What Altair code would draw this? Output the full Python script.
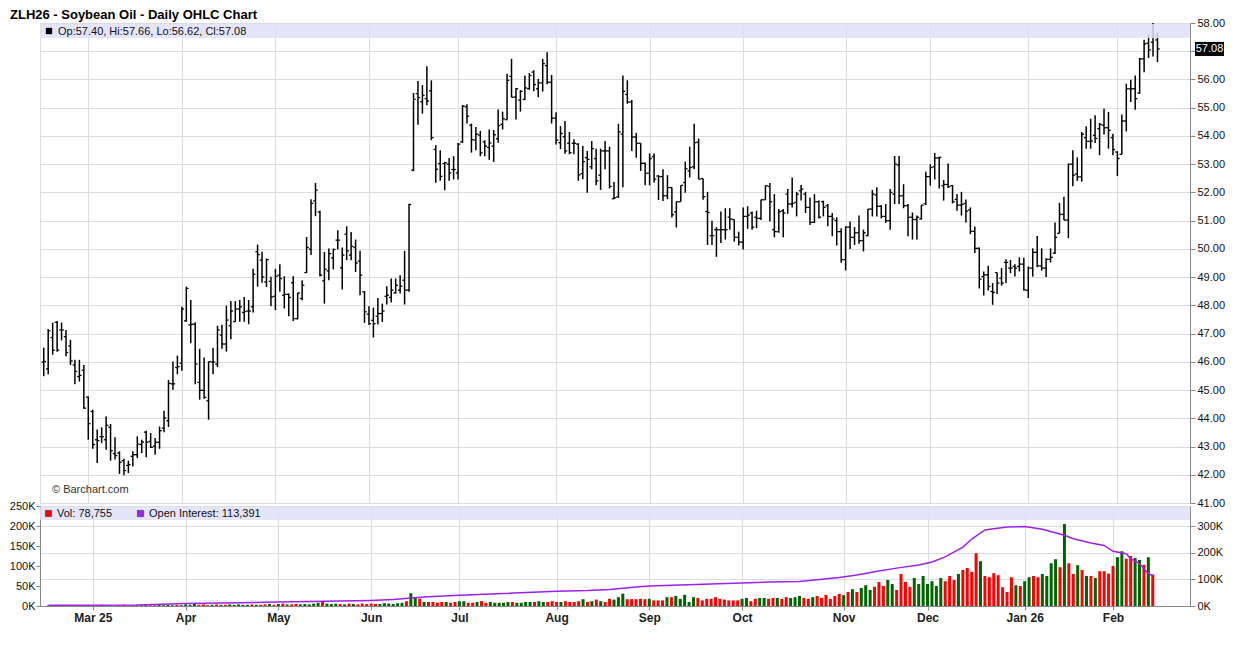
import altair as alt
import pandas as pd

title_text = "ZLH26 - Soybean Oil - Daily OHLC Chart"

opens = [45.99, 45.75, 46.86, 47.40, 47.13, 46.89, 46.56, 45.89, 45.48, 45.70,
         44.75, 44.24, 43.24, 43.35, 43.24, 43.68, 42.75, 42.77, 42.50, 42.33,
         42.65, 42.71, 43.07, 43.51, 43.18, 43.01, 43.15, 43.65, 43.91, 45.22,
         45.80, 45.95, 47.45, 47.31, 47.33, 45.27, 44.99, 44.62, 45.99, 45.92,
         46.95, 46.63, 47.28, 47.42, 47.87, 47.75, 47.80, 47.95, 49.90, 49.60,
         48.83, 48.85, 48.32, 49.07, 48.36, 48.39, 48.80, 47.53, 48.24, 49.16,
         49.99, 51.70, 51.31, 48.87, 49.22, 49.68, 50.31, 49.33, 50.52, 49.78,
         50.05, 49.57, 48.48, 47.69, 47.47, 47.61, 47.71, 48.32, 48.28, 48.44,
         48.54, 48.89, 48.54, 52.79, 55.50, 55.21, 55.32, 55.60, 53.52, 53.02,
         53.02, 53.00, 52.81, 52.69, 53.79, 55.03, 54.38, 53.85, 54.03, 53.79,
         53.59, 53.64, 53.90, 54.41, 54.58, 56.11, 55.38, 55.27, 55.29, 55.67,
         56.26, 55.67, 55.88, 56.49, 55.90, 54.63, 53.76, 53.97, 53.74, 53.74,
         53.71, 52.67, 53.23, 52.91, 53.20, 52.61, 53.47, 53.47, 51.78, 51.84,
         54.06, 55.47, 55.20, 53.96, 53.74, 53.03, 52.68, 53.27, 52.58, 52.56,
         51.88, 52.17, 51.31, 51.67, 52.35, 52.76, 52.91, 53.78, 52.49, 51.32,
         50.47, 50.68, 50.68, 50.68, 51.12, 51.04, 50.41, 50.24, 51.15, 51.27,
         51.12, 51.08, 51.74, 52.21, 50.68, 50.61, 51.35, 51.94, 51.59, 51.65,
         52.06, 51.94, 51.47, 50.94, 51.67, 51.67, 51.53, 51.15, 51.00, 50.61,
         49.62, 50.77, 50.41, 50.57, 50.29, 50.47, 51.41, 51.91, 51.51, 51.15,
         51.00, 51.94, 52.97, 51.88, 51.53, 51.12, 51.04, 51.06, 51.60, 52.56,
         52.91, 53.22, 52.24, 52.28, 52.24, 51.75, 51.55, 51.61, 51.38, 50.62,
         50.02, 49.02, 49.08, 48.49, 49.16, 48.96, 49.52, 49.32, 49.38, 49.38,
         49.46, 48.53, 49.32, 49.88, 49.40, 49.32, 49.63, 49.85, 50.55, 51.22,
         51.02, 53.00, 52.65, 52.55, 53.94, 53.81, 54.02, 54.26, 54.38, 54.29,
         53.94, 53.43, 53.35, 54.53, 55.67, 55.67, 55.52, 56.73, 57.28, 57.32,
         57.40]
highs = [46.50, 47.16, 47.39, 47.45, 47.39, 47.13, 46.78, 46.07, 46.07, 45.89,
         44.77, 44.30, 43.60, 43.68, 44.06, 43.80, 43.33, 42.83, 42.57, 42.50,
         42.83, 43.36, 43.24, 43.56, 43.48, 43.30, 43.71, 44.27, 45.36, 46.01,
         46.22, 47.95, 48.66, 48.19, 47.40, 46.46, 46.15, 46.01, 46.50, 47.28,
         47.31, 47.99, 48.15, 48.15, 48.19, 48.30, 48.19, 49.30, 50.15, 49.90,
         49.66, 49.01, 49.29, 49.46, 49.03, 48.42, 49.03, 48.44, 48.89, 50.42,
         51.76, 52.34, 51.35, 49.89, 50.01, 50.01, 50.66, 50.05, 50.80, 50.60,
         50.33, 49.93, 48.50, 47.97, 47.92, 48.26, 48.06, 48.68, 48.95, 48.95,
         49.07, 49.93, 51.60, 55.52, 55.95, 55.80, 56.47, 55.97, 53.67, 53.49,
         53.08, 53.22, 53.28, 53.75, 55.09, 55.12, 54.44, 54.32, 54.18, 53.85,
         54.23, 54.21, 54.94, 54.86, 56.20, 56.73, 55.70, 55.62, 56.14, 56.23,
         56.33, 56.02, 56.73, 56.96, 56.16, 54.84, 54.35, 54.53, 54.14, 53.88,
         53.74, 53.64, 53.47, 53.82, 53.55, 53.55, 53.82, 53.62, 52.37, 54.43,
         56.14, 55.97, 55.27, 54.11, 53.74, 53.06, 53.38, 53.38, 52.61, 52.82,
         52.61, 52.17, 51.67, 52.25, 53.09, 53.62, 54.43, 53.91, 52.49, 52.02,
         51.00, 50.77, 51.32, 51.44, 51.44, 51.04, 50.61, 51.47, 51.51, 51.32,
         51.35, 51.74, 52.24, 52.33, 51.94, 51.41, 51.41, 52.12, 52.53, 52.02,
         52.26, 52.02, 51.82, 51.94, 51.71, 51.71, 51.59, 51.27, 51.12, 50.73,
         50.80, 50.97, 50.77, 51.18, 50.68, 51.41, 52.09, 52.18, 51.55, 51.59,
         52.12, 53.29, 53.29, 52.29, 51.59, 51.29, 51.18, 51.55, 52.73, 53.00,
         53.40, 53.26, 52.44, 53.02, 52.26, 51.94, 52.02, 51.75, 51.47, 50.79,
         50.05, 49.20, 49.40, 48.79, 49.16, 49.32, 49.63, 49.61, 49.46, 49.70,
         49.69, 49.38, 50.02, 50.46, 50.02, 49.67, 50.02, 50.93, 51.63, 51.85,
         53.02, 53.49, 53.24, 54.14, 54.34, 54.61, 54.73, 54.46, 54.96, 54.85,
         54.08, 53.46, 54.76, 55.85, 55.99, 56.14, 56.76, 57.41, 57.59, 58.00,
         57.66]
lows = [45.49, 45.56, 46.25, 46.36, 46.76, 46.20, 45.89, 45.21, 45.30, 44.34,
        43.24, 42.92, 42.42, 43.12, 42.89, 42.50, 42.54, 42.03, 41.98, 42.06,
        42.29, 42.59, 42.77, 42.62, 42.95, 42.71, 42.92, 43.51, 43.69, 45.01,
        45.56, 45.68, 47.42, 46.66, 45.21, 44.66, 44.69, 43.95, 45.56, 45.81,
        46.46, 46.36, 46.80, 47.42, 47.42, 47.42, 47.33, 47.75, 48.66, 48.80,
        48.65, 47.97, 47.83, 48.48, 47.89, 47.61, 47.45, 47.50, 48.18, 49.15,
        49.78, 51.16, 49.02, 48.06, 48.89, 49.27, 49.98, 48.56, 49.60, 49.60,
        49.18, 48.36, 47.38, 47.30, 46.86, 47.32, 47.41, 48.03, 48.10, 48.42,
        48.42, 48.03, 48.48, 52.75, 54.40, 54.79, 55.09, 53.85, 52.34, 52.41,
        52.08, 52.41, 52.46, 52.46, 53.75, 54.44, 53.41, 53.49, 53.28, 53.28,
        53.16, 53.08, 53.76, 54.23, 54.56, 55.37, 54.58, 54.86, 55.27, 55.64,
        55.58, 55.37, 55.57, 55.83, 54.44, 53.70, 53.53, 53.37, 53.35, 53.35,
        52.41, 52.47, 51.99, 52.82, 52.25, 52.09, 52.82, 52.14, 51.76, 51.81,
        52.18, 55.14, 53.47, 53.23, 52.76, 52.25, 52.25, 52.35, 51.73, 51.70,
        51.76, 51.11, 50.76, 51.67, 51.99, 52.53, 52.82, 52.47, 51.74, 50.14,
        50.14, 49.72, 50.21, 50.33, 50.68, 50.26, 50.12, 49.98, 50.71, 50.68,
        50.73, 51.02, 51.74, 50.97, 50.41, 50.57, 50.41, 51.24, 51.47, 51.15,
        51.71, 51.27, 50.85, 50.92, 51.08, 51.15, 50.80, 50.45, 50.12, 49.51,
        49.24, 50.00, 50.14, 50.18, 49.91, 50.45, 51.15, 51.15, 51.08, 50.92,
        50.68, 51.59, 51.59, 51.44, 50.45, 50.33, 50.33, 51.04, 51.55, 52.24,
        52.46, 52.14, 51.71, 52.16, 51.61, 51.35, 51.18, 50.93, 50.52, 49.85,
        48.60, 48.35, 48.53, 48.02, 48.40, 48.70, 48.79, 49.14, 49.02, 49.20,
        48.53, 48.26, 49.02, 49.35, 49.23, 49.00, 49.52, 49.82, 50.55, 51.02,
        50.38, 52.22, 52.41, 52.38, 53.55, 53.55, 53.75, 53.32, 54.05, 53.55,
        53.32, 52.58, 53.35, 54.16, 55.20, 54.93, 55.49, 56.26, 56.76, 56.81,
        56.62]
closes = [46.01, 47.10, 46.41, 46.41, 47.13, 46.33, 46.03, 45.66, 45.52, 44.36,
          43.81, 43.07, 43.21, 43.35, 43.75, 42.85, 42.68, 42.44, 42.15, 42.36,
          42.71, 43.09, 43.16, 43.15, 42.97, 43.15, 43.56, 44.01, 45.24, 45.22,
          45.83, 47.87, 48.60, 47.33, 45.92, 44.99, 44.74, 46.01, 45.99, 47.13,
          46.63, 47.48, 47.80, 47.87, 47.95, 47.78, 47.80, 49.10, 49.80, 49.00,
          49.62, 48.30, 49.03, 48.95, 48.39, 48.28, 47.53, 48.44, 48.71, 50.05,
          51.61, 52.08, 49.07, 49.28, 49.83, 49.98, 50.31, 49.78, 49.93, 50.09,
          49.50, 49.07, 47.77, 47.35, 47.35, 47.71, 47.80, 48.36, 48.54, 48.71,
          48.68, 48.54, 51.57, 55.30, 55.36, 55.44, 55.24, 53.94, 52.82, 52.57,
          53.05, 52.69, 52.81, 53.71, 55.06, 54.70, 53.87, 54.06, 53.40, 53.64,
          53.75, 54.04, 54.37, 54.61, 55.97, 55.37, 55.67, 55.58, 55.70, 56.14,
          55.82, 55.88, 56.56, 55.90, 54.63, 53.85, 54.09, 53.47, 53.41, 53.74,
          52.62, 53.09, 53.17, 53.55, 52.41, 53.47, 53.47, 52.21, 51.81, 54.14,
          55.58, 55.20, 53.96, 53.74, 53.03, 52.68, 53.20, 52.47, 52.56, 51.88,
          52.17, 51.21, 51.67, 52.25, 52.84, 52.88, 53.76, 52.47, 51.85, 51.29,
          50.47, 50.68, 50.68, 50.68, 51.06, 50.41, 50.24, 51.15, 51.20, 50.77,
          51.08, 51.74, 52.24, 51.67, 50.61, 51.32, 51.27, 51.59, 51.61, 51.94,
          52.12, 51.47, 50.94, 51.67, 51.12, 51.47, 51.15, 51.06, 50.61, 49.62,
          50.77, 50.41, 50.57, 50.29, 50.57, 51.41, 51.94, 51.51, 51.15, 51.00,
          52.00, 53.00, 51.88, 51.53, 51.12, 51.04, 51.12, 51.55, 52.56, 52.88,
          53.22, 53.24, 52.28, 52.20, 51.67, 51.55, 51.58, 51.34, 50.62, 50.02,
          48.93, 49.08, 48.67, 48.46, 48.79, 48.79, 49.52, 49.32, 49.32, 49.46,
          48.55, 49.32, 49.88, 49.40, 49.32, 49.63, 49.70, 50.41, 51.22, 51.02,
          53.00, 52.61, 52.55, 54.06, 53.81, 53.82, 53.91, 54.41, 54.29, 54.20,
          53.52, 53.20, 54.53, 55.67, 55.67, 55.32, 56.73, 57.26, 57.05, 57.52,
          57.08]

volumes_k = [2, 1, 2, 1, 2, 1, 2, 2, 1, 2,
             2, 2, 3, 2, 2, 1, 2, 3, 2, 2,
             2, 2, 3, 2, 2, 3, 2, 3, 2, 3,
             2, 4, 3, 5, 3, 4, 2, 3, 4, 3,
             3, 4, 3, 4, 3, 3, 4, 3, 3, 4,
             5, 3, 5, 6, 4, 4, 5, 4, 5, 4,
             6, 8, 12, 6, 5, 6, 5, 4, 6, 5,
             4, 6, 5, 6, 5, 5, 7, 6, 5, 7,
             8, 12, 32, 22, 18, 10, 10, 10, 8, 10,
             10, 8, 10, 12, 12, 8, 8, 10, 12, 8,
             10, 8, 8, 8, 10, 10, 8, 8, 10, 10,
             10, 12, 10, 10, 12, 10, 10, 12, 10, 10,
             12, 17, 10, 12, 16, 12, 10, 18, 16, 22,
             31, 17, 17, 17, 18, 17, 18, 14, 14, 14,
             22, 22, 25, 18, 28, 10, 22, 20, 14, 18,
             18, 22, 18, 16, 14, 14, 14, 18, 20, 12,
             18, 20, 20, 18, 20, 20, 18, 22, 20, 22,
             25, 20, 18, 22, 25, 20, 28, 18, 25, 30,
             27, 35, 42, 35, 45, 52, 40, 48, 60, 50,
             65, 55, 40, 80, 60, 48, 70, 55, 75, 55,
             62, 50, 70, 62, 75, 65, 80, 90, 95, 85,
             132, 112, 75, 72, 82, 77, 47, 35, 72, 52,
             50, 62, 72, 75, 72, 80, 75, 107, 117, 97,
             205, 107, 80, 102, 90, 75, 75, 70, 87, 87,
             81, 100, 122, 137, 118, 125, 120, 115, 103, 122,
             78.755]

oi_index = [0, 20, 31, 52, 73, 78, 82, 86, 93, 115, 122, 127, 133, 136, 157, 163,
            170, 179, 183, 188, 192, 197, 200, 203, 207, 209, 212, 214, 217, 221,
            225, 230, 232, 236, 239, 241, 244, 245, 247, 249, 250]
oi_k = [3, 4, 9, 15, 21, 24, 30, 35, 40, 55, 58, 62, 71, 75, 86, 90,
        92, 107, 116, 131, 142, 154, 165, 184, 221, 251, 285, 290, 296, 298,
        288, 265, 252, 236, 227, 205, 196, 178, 159, 121, 113.391]

month_index = [10, 31, 52, 73, 93, 115, 136, 157, 180, 199, 221, 241]
month_labels = ["Mar 25", "Apr", "May", "Jun", "Jul", "Aug", "Sep", "Oct", "Nov", "Dec", "Jan 26", "Feb"]
price_ticks = list(range(41, 59))
vol_ticks = [0, 50000, 100000, 150000, 200000, 250000]
oi_ticks = [0, 100000, 200000, 300000]

W = 1150
H1 = 480
H2 = 100
FONT = "Liberation Sans"
GRID = "#dcdcdc"
FRAME = "#888888"

df = pd.DataFrame({
    "i": list(range(len(closes))),
    "open": opens, "high": highs, "low": lows, "close": closes,
    "vol": [v * 1000 for v in volumes_k],
})
df["dir"] = ["up" if c > o else "down" for o, c in zip(opens, closes)]
oi_df = pd.DataFrame({"i": oi_index, "oi": [v * 1000 for v in oi_k]})
one = pd.DataFrame({"k": [0]})

xscale = alt.Scale(domain=[-0.84, 257.3], nice=False, zero=False)
month_expr = " : ".join(f"datum.value == {v} ? '{l}'" for v, l in zip(month_index, month_labels)) + " : ''"

x_axis_up = alt.Axis(values=month_index, labels=False, ticks=False, domain=False,
                     grid=True, gridColor=GRID, title=None)
yscale = alt.Scale(domain=[41, 58], nice=False, zero=False)
y_axis_up = alt.Axis(orient="right", values=price_ticks,
                     labelExpr="datum.value == 57 ? '' : format(datum.value, '.2f')",
                     title=None, grid=True, gridColor=GRID, tickColor=FRAME, domainColor=FRAME,
                     tickSize=5, labelFontSize=11, labelColor="#111", labelPadding=2, labelFont=FONT)

def X(field):
    return alt.X(field, scale=xscale, axis=x_axis_up)

def Y(field):
    return alt.Y(field, scale=yscale, axis=y_axis_up)

base = alt.Chart(df)
bars = base.mark_rule(color="black", strokeWidth=1.5).encode(x=X("i:Q"), y=Y("low:Q"), y2="high:Q")
open_t = base.transform_calculate(xl="datum.i - 0.5").mark_rule(color="black", strokeWidth=1.3).encode(
    x=X("xl:Q"), x2="i:Q", y=Y("open:Q"))
close_t = base.transform_calculate(xr="datum.i + 0.5").mark_rule(color="black", strokeWidth=1.3).encode(
    x=X("i:Q"), x2="xr:Q", y=Y("close:Q"))

band_up = alt.Chart(one).mark_rect(color="#e0e0f8", opacity=0.85).encode(
    x=alt.value(0), x2=alt.value(W), y=alt.value(1), y2=alt.value(15))
legend_up = f"Op:{opens[-1]:.2f}, Hi:{highs[-1]:.2f}, Lo:{lows[-1]:.2f}, Cl:{closes[-1]:.2f}"
sq_up = alt.Chart(one).mark_square(color="black", size=40, opacity=1).encode(
    x=alt.value(9), y=alt.value(8))
txt_up = alt.Chart(one).mark_text(align="left", baseline="middle", fontSize=11, font=FONT, color="#111").encode(
    x=alt.value(18), y=alt.value(8.5), text=alt.value(legend_up))
credit = alt.Chart(one).mark_text(align="left", baseline="middle", fontSize=11, font=FONT, color="#333").encode(
    x=alt.value(12), y=alt.value(H1 - 13), text=alt.value("© Barchart.com"))
title_mark = alt.Chart(one).mark_text(align="left", baseline="bottom", fontSize=13, fontWeight="bold",
                                      font=FONT, color="#000").encode(
    x=alt.value(-30), y=alt.value(-1), text=alt.value(title_text))

last_df = pd.DataFrame({"c": [closes[-1]], "label": [f"{closes[-1]:.2f}"]})
last_box = alt.Chart(last_df).transform_calculate(ct="datum.c + 0.25", cb="datum.c - 0.25").mark_rect(color="black").encode(
    x=alt.value(W + 5), x2=alt.value(W + 34), y=Y("ct:Q"), y2="cb:Q")
last_txt = alt.Chart(last_df).mark_text(color="white", fontSize=11, font=FONT, align="center", baseline="middle").encode(
    x=alt.value(W + 19.5), y=Y("c:Q"), text="label:N")

upper = alt.layer(bars, open_t, close_t, band_up, sq_up, txt_up, credit, title_mark, last_box, last_txt).properties(
    width=W, height=H1)

x_axis_low = alt.Axis(values=month_index, labelExpr=month_expr, grid=True, gridColor=GRID, title=None,
                      labelFontWeight="bold", labelFontSize=12, labelFont=FONT, labelColor="#222",
                      tickSize=4, tickColor=FRAME, domainColor=FRAME, labelPadding=2)
vol = alt.Chart(df).mark_bar(size=3).encode(
    x=alt.X("i:Q", scale=xscale, axis=x_axis_low),
    y=alt.Y("vol:Q", scale=alt.Scale(domain=[0, 250000], nice=False),
            axis=alt.Axis(orient="left", values=vol_ticks, labelExpr="datum.value/1000 + 'K'",
                          title=None, grid=False, tickSize=4, labelPadding=1, labelFontSize=11,
                          labelFont=FONT, labelColor="#111", tickColor=FRAME, domainColor=FRAME)),
    color=alt.Color("dir:N", scale=alt.Scale(domain=["up", "down"], range=["#006400", "#ff0000"]), legend=None),
)
oi = alt.Chart(oi_df).mark_line(color="#a020f0", strokeWidth=1.5).encode(
    x=alt.X("i:Q", scale=xscale, axis=x_axis_low),
    y=alt.Y("oi:Q", scale=alt.Scale(domain=[0, 375000], nice=False),
            axis=alt.Axis(orient="right", values=oi_ticks, labelExpr="datum.value/1000 + 'K'",
                          title=None, grid=True, gridColor=GRID, tickSize=5, labelPadding=2,
                          labelFontSize=11, labelFont=FONT, labelColor="#111",
                          tickColor=FRAME, domainColor=FRAME)),
)
band_low = alt.Chart(one).mark_rect(color="#e0e0f8", opacity=0.85).encode(
    x=alt.value(0), x2=alt.value(W), y=alt.value(1), y2=alt.value(14))
sq_vol = alt.Chart(one).mark_square(color="#ff0000", size=40, opacity=1, stroke="#333", strokeWidth=0.5).encode(
    x=alt.value(8.5), y=alt.value(7.5))
txt_vol = alt.Chart(one).mark_text(align="left", baseline="middle", fontSize=11, font=FONT, color="#111").encode(
    x=alt.value(17), y=alt.value(8), text=alt.value(f"Vol: {int(round(volumes_k[-1] * 1000)):,}"))
sq_oi = alt.Chart(one).mark_square(color="#a020f0", size=40, opacity=1, stroke="#333", strokeWidth=0.5).encode(
    x=alt.value(100.5), y=alt.value(7.5))
txt_oi = alt.Chart(one).mark_text(align="left", baseline="middle", fontSize=11, font=FONT, color="#111").encode(
    x=alt.value(109), y=alt.value(8), text=alt.value(f"Open Interest: {int(round(oi_k[-1] * 1000)):,}"))

lower = alt.layer(band_low, vol, oi, sq_vol, txt_vol, sq_oi, txt_oi).resolve_scale(y="independent").properties(
    width=W, height=H2)

chart = alt.vconcat(upper, lower, spacing=3, bounds="flush").properties(
    padding={"left": 0, "top": 0, "right": 2, "bottom": 2},
).configure_view(stroke=FRAME, strokeWidth=1).configure(background="white")

chart.save("out.html", embed_options={"renderer": "svg", "actions": False})
